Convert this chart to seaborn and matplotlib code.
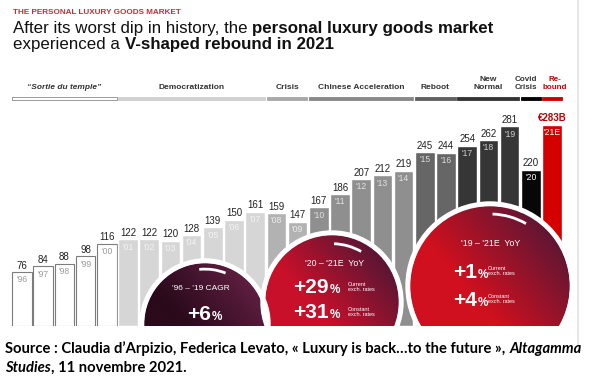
import numpy as np
import pandas as pd
import matplotlib
matplotlib.use("Agg")
import matplotlib.pyplot as plt
import seaborn as sns
from matplotlib.colors import LinearSegmentedColormap
from matplotlib.patches import Circle, Arc, Rectangle
from matplotlib.lines import Line2D

# ---- data ----
years = ["'96", "'97", "'98", "'99", "'00", "'01", "'02", "'03", "'04", "'05", "'06",
         "'07", "'08", "'09", "'10", "'11", "'12", "'13", "'14", "'15", "'16", "'17",
         "'18", "'19", "'20", "'21E"]
market_size = [76, 84, 88, 98, 116, 122, 122, 120, 128, 139, 150, 161, 159, 147,
               167, 186, 207, 212, 219, 245, 244, 254, 262, 281, 220, 283]
last_label = "\u20ac283B"
phases = ["\u201cSortie du temple\u201d", "Democratization", "Crisis", "Chinese Acceleration",
          "Reboot", "New\nNormal", "Covid\nCrisis", "Re-\nbound"]
phase_years = [5, 7, 2, 5, 2, 3, 1, 1]
cagr_title = "'96 \u2013 '19 CAGR"
cagr_value = "+6"
yoy20_title = "'20 \u2013 '21E  YoY"
yoy20_values = ["+29", "+31"]
yoy19_title = "'19 \u2013 '21E  YoY"
yoy19_values = ["+1", "+4"]
rate_types = ["Current\nexch. rates", "Constant\nexch. rates"]

# ---- styles ----
bar_colors = ["#ffffff", "#d6d6d6", "#b2b2b2", "#8f8f8f", "#666666", "#363636", "#070707", "#d40000"]
band_colors = ["#ffffff", "#d0d0d0", "#a8a8a8", "#888888", "#606060", "#333333", "#000000", "#cc0000"]
year_colors = ["#9a9a9a", "#f4f4f4", "#eeeeee", "#e2e2e2", "#dddddd", "#d0d0d0", "#ffffff", "#ffffff"]
label_shift = [0, 0, 0, 0, 0, 0, -0.22, 0.15]

W, H = 595, 383
BASE = 326          # baseline of bars, px from top
K = 0.71            # px per billion

sns.set_style("white")
plt.rcParams["font.family"] = ["Liberation Sans", "DejaVu Sans"]

fig = plt.figure(figsize=(W / 100, H / 100), dpi=100)
fig.patch.set_facecolor("white")

def fx(px):
    return px / W

def fy(py):
    return 1 - py / H

# ---- bars ----
df = pd.DataFrame({"year": years, "value": market_size,
                   "phase": np.repeat(np.arange(len(phases)), phase_years)})
pal = {y: bar_colors[p] for y, p in zip(df.year, df.phase)}

ax = fig.add_axes([fx(11.4), (H - BASE) / H, 551.2 / W, (BASE - 40) / H])
sns.barplot(data=df, x="year", y="value", hue="year", palette=pal, order=years,
            width=0.93, saturation=1, legend=False, ax=ax)
ax.set_xlim(-0.5, len(years) - 0.5)
ax.set_ylim(0, (BASE - 40) / K)
ax.axis("off")

for p in ax.patches:
    i = int(round(p.get_x() + p.get_width() / 2))
    if df.phase[i] == 0:
        p.set_edgecolor("#7c7c7c")
        p.set_linewidth(0.8)

for i, row in df.iterrows():
    is_last = i == len(df) - 1
    top_txt = last_label if is_last else str(row.value)
    ax.annotate(top_txt, xy=(i, row.value), xytext=(0, 5.2 if is_last else 4.6),
                textcoords="offset points", ha="center", va="center",
                fontsize=7, color="#c00000" if is_last else "#222222",
                fontweight="bold" if is_last else "normal")
    ax.annotate(row.year, xy=(i, row.value), xytext=(0, -5.6), textcoords="offset points",
                ha="center", va="center", fontsize=6.2, color=year_colors[row.phase])

# ---- phase bands ----
start = 0
for k, (name, n) in enumerate(zip(phases, phase_years)):
    x0 = start - 0.465
    wd = n - 1 + 0.93
    ax.add_patch(Rectangle((x0, (BASE - 100) / K), wd, 3.5 / K,
                           facecolor=band_colors[k],
                           edgecolor="#8a8a8a" if k == 0 else band_colors[k],
                           linewidth=0.6, clip_on=False))
    ax.text(x0 + wd / 2 + label_shift[k], (BASE - 90.5) / K, name, ha="center", va="bottom",
            fontsize=5.8 if n == 1 else 6, fontweight="bold", linespacing=1.12,
            fontstyle="italic" if k == 0 else "normal",
            color="#cc0000" if k == len(phases) - 1 else "#333333", clip_on=False)
    start += n

# ---- medallions (pixel overlay) ----
ov = fig.add_axes([0, (H - BASE) / H, 1, BASE / H])
ov.set_zorder(3)
ov.axis("off")

def medallion(cx, cy, r, low, high, arc_r, a1, a2):
    n = 300
    xs = np.linspace(-1, 1, n)
    X = xs[None, :]
    Yup = -xs[:, None]
    ang = np.deg2rad(40)
    t = np.clip((X * np.cos(ang) + Yup * np.sin(ang) + 1) / 2, 0, 1)
    cmap = LinearSegmentedColormap.from_list("m", [(0, low), (0.38, low), (1, high)])
    im = ov.imshow(cmap(t), extent=(cx - r, cx + r, cy + r, cy - r), origin="upper",
                   aspect="auto", interpolation="bilinear", zorder=2)
    disk = Circle((cx, cy), r, facecolor="none", edgecolor="none")
    ov.add_patch(disk)
    im.set_clip_path(disk)
    ov.add_patch(Circle((cx, cy), r + 2.2, fill=False, edgecolor="white", lw=3.6, zorder=3))
    ov.add_patch(Arc((cx, cy), 2 * arc_r * r, 2 * arc_r * r, theta1=a1, theta2=a2,
                     color="white", lw=2.0, zorder=4))

medallion(205, 324, 61, "#2a0a1b", "#5e1e40", 0.9, -96, -68)
medallion(332, 302, 67, "#c8102a", "#5a1634", 0.87, -88, -60)
medallion(490, 286, 80, "#d0101e", "#611634", 0.9, -88, -60)

def big_pct(xr, yb, val):
    ov.text(xr, yb, val, ha="right", va="baseline", fontsize=15, fontweight="bold",
            color="white", zorder=5)
    ov.text(xr + 0.5, yb, "%", ha="left", va="baseline", fontsize=8.5, fontweight="bold",
            color="white", zorder=5)

ov.text(201, 289, cagr_title, ha="center", va="center", fontsize=6, color="white", zorder=5)
big_pct(211, 320, cagr_value)

ov.text(335, 263, yoy20_title, ha="center", va="center", fontsize=6.3, color="white", zorder=5)
for v, yb, lab in zip(yoy20_values, [293, 318], rate_types):
    big_pct(329, yb, v)
    ov.text(348, yb - 6, lab, ha="left", va="center", fontsize=4, color="white",
            linespacing=1.1, zorder=5)

ov.text(491, 243, yoy19_title, ha="center", va="center", fontsize=6.3, color="white", zorder=5)
for v, yb, lab in zip(yoy19_values, [278, 306], rate_types):
    big_pct(477, yb, v)
    ov.text(488, yb - 7, lab, ha="left", va="center", fontsize=4, color="white",
            linespacing=1.1, zorder=5)

ov.set_xlim(0, W)
ov.set_ylim(BASE, 0)

# ---- titles & footer ----
renderer = fig.canvas.get_renderer()

def runs(x, y, parts, size, gap_em=0.28, **common):
    xf = fx(x)
    for s, kw, gap in parts:
        t = fig.text(xf, fy(y), s, fontsize=size, va="baseline", ha="left", **common, **kw)
        bb = t.get_window_extent(renderer=renderer)
        xf = (bb.x1 + gap * gap_em * size * 100 / 72) / W

fig.text(fx(13), fy(13.5), "THE PERSONAL LUXURY GOODS MARKET", fontsize=5.9,
         fontweight="bold", color="#b8333d", va="baseline", ha="left")

runs(13, 33.5, [("After its worst dip in history, the", {}, 1),
                ("personal luxury goods market", {"fontweight": "bold"}, 0)],
     size=12.2, color="#111111")
runs(13, 49, [("experienced a", {}, 1),
              ("V-shaped rebound in 2021", {"fontweight": "bold"}, 0)],
     size=12.2, color="#111111")

foot = dict(color="black", family=["Lato", "DejaVu Sans"])
runs(5, 353, [("Source : Claudia d\u2019Arpizio, Federica Levato, \u00ab Luxury is back\u2026to the future \u00bb,",
               {"fontweight": "bold"}, 1),
              ("Altagamma", {"fontweight": "bold", "fontstyle": "italic"}, 0)],
     size=10.6, **foot)
runs(5, 372, [("Studies", {"fontweight": "bold", "fontstyle": "italic"}, 0.1),
              (", 11 novembre 2021.", {"fontweight": "bold"}, 0)],
     size=10.6, **foot)

fig.add_artist(Line2D([fx(578), fx(578)], [fy(0), fy(345)], color="#e2e2e2", lw=1.2))

fig.savefig("out.png", dpi=100, facecolor="white")
